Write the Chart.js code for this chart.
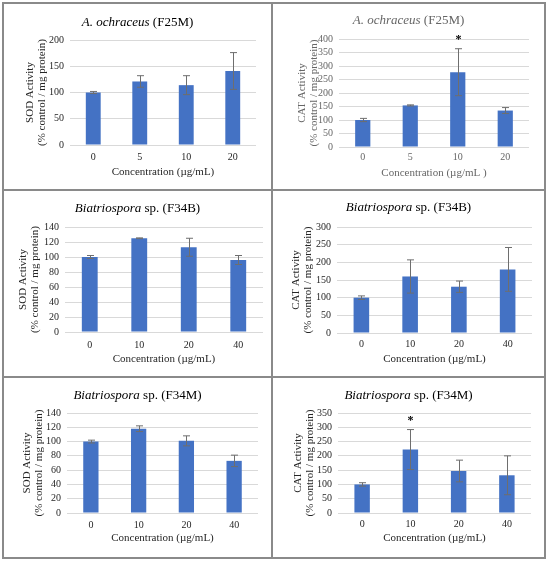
<!DOCTYPE html>
<html>
<head>
<meta charset="utf-8">
<script src="https://cdn.jsdelivr.net/npm/chart.js@4.4.0/dist/chart.umd.min.js"></script>
<style>
  html, body { margin: 0; padding: 0; background: #fff; }
  #page { position: relative; width: 550px; height: 561px; overflow: hidden;
          font-family: "Liberation Serif", "Times New Roman", serif; }
  .panel { position: absolute; }
  .panel canvas { position: absolute; left: 0; top: 0; }
  .ptitle { position: absolute; left: 0; right: 0; text-align: center;
            font-size: 13px; line-height: 16px; white-space: nowrap; }
  .rule { position: absolute; background: #8a8a8a; }
</style>
</head>
<body>
<div id="page"></div>
<script>
// categories (concentration, µg/mL)
const concF25M = ['0', '5', '10', '20'];
const concF34 = ['0', '10', '20', '40'];

// A. ochraceus (F25M)
const sodF25M = [100, 121, 114, 141];
const sodF25MErr = [2, 11, 18, 35];
const catF25M = [100, 154, 277, 135];
const catF25MErr = [6, 2, 87, 11];
const catF25MSig = [false, false, true, false];

// Biatriospora sp. (F34B)
const sodF34B = [100, 125, 113, 96];
const sodF34BErr = [2, 0.5, 12, 6];
const catF34B = [100, 160, 131, 180];
const catF34BErr = [5, 47, 16, 62];

// Biatriospora sp. (F34M)
const sodF34M = [100, 118, 101, 73];
const sodF34MErr = [2, 4, 7, 8];
const catF34M = [100, 222, 147, 132];
const catF34MErr = [6, 70, 38, 68];
const catF34MSig = [false, true, false, false];

// y tick labels
const ticksSodF25M = [0, 50, 100, 150, 200];
const ticksCatF25M = [0, 50, 100, 150, 200, 250, 300, 350, 400];
const ticksSodF34 = [0, 20, 40, 60, 80, 100, 120, 140];
const ticksCatF34B = [0, 50, 100, 150, 200, 250, 300];
const ticksCatF34M = [0, 50, 100, 150, 200, 250, 300, 350];

const sodTitle = ['SOD Activity', '(% control / mg protein)'];
const catTitle = ['CAT Activity', '(% control / mg protein)'];

const BAR = '#4472C4';
const GRID = '#d9d9d9';
const SERIF = '"Liberation Serif", "Times New Roman", serif';

// layout in page pixels: box = [x, y, w, h], plot = [left, top, right, bottom]
const panels = [
  { italic: 'A. ochraceus', rest: ' (F25M)', labels: concF25M, values: sodF25M, err: sodF25MErr, sig: null,
    ticks: ticksSodF25M, yTitle: sodTitle, xTitle: 'Concentration (µg/mL)',
    box: [3, 3, 269, 187], plot: [70, 40, 256, 145], yLine: 30, xTit: 172, xLab: 157, tY: 22, color: '#262626', tColor: '#000' },
  { italic: 'A. ochraceus', rest: ' (F25M)', labels: concF25M, values: catF25M, err: catF25MErr, sig: catF25MSig,
    ticks: ticksCatF25M, yTitle: catTitle, xTitle: 'Concentration (µg/mL )',
    box: [272, 3, 273, 187], plot: [339, 39, 529, 147], yLine: 302, xTit: 173, xLab: 157, tY: 20, color: '#666', tColor: '#666' },
  { italic: 'Biatriospora', rest: ' sp. (F34B)', labels: concF34, values: sodF34B, err: sodF34BErr, sig: null,
    ticks: ticksSodF34, yTitle: sodTitle, xTitle: 'Concentration (µg/mL)',
    box: [3, 190, 269, 187], plot: [65, 227, 263, 332], yLine: 23, xTit: 359, xLab: 345, tY: 208, color: '#262626', tColor: '#000' },
  { italic: 'Biatriospora', rest: ' sp. (F34B)', labels: concF34, values: catF34B, err: catF34BErr, sig: null,
    ticks: ticksCatF34B, yTitle: catTitle, xTitle: 'Concentration (µg/mL)',
    box: [272, 190, 273, 187], plot: [337, 227, 532, 333], yLine: 296, xTit: 359, xLab: 344, tY: 207, color: '#262626', tColor: '#000' },
  { italic: 'Biatriospora', rest: ' sp. (F34M)', labels: concF34, values: sodF34M, err: sodF34MErr, sig: null,
    ticks: ticksSodF34, yTitle: sodTitle, xTitle: 'Concentration (µg/mL)',
    box: [3, 377, 269, 181], plot: [67, 413, 258, 513], yLine: 27, xTit: 538, xLab: 525, tY: 395, color: '#262626', tColor: '#000' },
  { italic: 'Biatriospora', rest: ' sp. (F34M)', labels: concF34, values: catF34M, err: catF34MErr, sig: catF34MSig,
    ticks: ticksCatF34M, yTitle: catTitle, xTitle: 'Concentration (µg/mL)',
    box: [272, 377, 273, 181], plot: [338, 413, 531, 513], yLine: 298, xTit: 538, xLab: 524, tY: 395, color: '#262626', tColor: '#000' }
];

// error bars + significance marks, drawn from the y scale
function errorBars(values, err, sig) {
  return {
    id: 'errorBars',
    afterDatasetsDraw(chart) {
      const ctx = chart.ctx;
      const y = chart.scales.y;
      const meta = chart.getDatasetMeta(0);
      ctx.save();
      ctx.strokeStyle = '#6e6e6e';
      ctx.lineWidth = 1;
      meta.data.forEach((bar, i) => {
        const x = Math.round(bar.x) + 0.5;
        const yt = y.getPixelForValue(values[i] + err[i]);
        const yb = y.getPixelForValue(values[i] - err[i]);
        ctx.beginPath();
        ctx.moveTo(x, yt); ctx.lineTo(x, yb);
        ctx.moveTo(x - 3.5, yt); ctx.lineTo(x + 3.5, yt);
        ctx.moveTo(x - 3.5, yb); ctx.lineTo(x + 3.5, yb);
        ctx.stroke();
        if (sig && sig[i]) {
          ctx.fillStyle = '#000';
          ctx.font = 'bold 12px ' + SERIF;
          ctx.textAlign = 'center';
          ctx.textBaseline = 'alphabetic';
          ctx.fillText('*', x, yt - 6);
        }
      });
      ctx.restore();
    }
  };
}

const page = document.getElementById('page');

panels.forEach(p => {
  const [bx, by, bw, bh] = p.box;
  const [pl, pt, pr, pb] = p.plot;

  const div = document.createElement('div');
  div.className = 'panel';
  div.style.left = bx + 'px';
  div.style.top = by + 'px';
  div.style.width = bw + 'px';
  div.style.height = bh + 'px';

  const canvas = document.createElement('canvas');
  canvas.width = bw;
  canvas.height = bh;
  canvas.style.width = bw + 'px';
  canvas.style.height = bh + 'px';
  div.appendChild(canvas);

  const t = document.createElement('div');
  t.className = 'ptitle';
  t.style.top = (p.tY - by - 8) + 'px';
  t.style.color = p.tColor;
  const it = document.createElement('i');
  it.textContent = p.italic;
  t.appendChild(it);
  t.appendChild(document.createTextNode(p.rest));
  div.appendChild(t);
  page.appendChild(div);

  const axisFont = { family: SERIF, size: 11, lineHeight: 1.1 };
  const tickFont = { family: SERIF, size: 10, lineHeight: 1.2 };
  const lh = 11 * 1.1;

  new Chart(canvas, {
    type: 'bar',
    data: {
      labels: p.labels,
      datasets: [{
        data: p.values,
        backgroundColor: BAR,
        borderWidth: 0,
        categoryPercentage: 0.32,
        barPercentage: 1
      }]
    },
    options: {
      responsive: false,
      animation: false,
      layout: { padding: { left: 0, top: pt - by, right: (bx + bw) - pr, bottom: 0 } },
      plugins: { legend: { display: false }, tooltip: { enabled: false } },
      scales: {
        x: {
          grid: { display: false, drawTicks: false },
          border: { display: false },
          ticks: { font: tickFont, color: p.color, padding: p.xLab - pb - 6, autoSkip: false, maxRotation: 0 },
          title: {
            display: true, text: p.xTitle, font: axisFont, color: p.color,
            padding: { top: 0, bottom: (by + bh) - p.xTit - lh / 2 }
          },
          afterFit: s => { s.height = (by + bh) - pb; }
        },
        y: {
          min: p.ticks[0],
          max: p.ticks[p.ticks.length - 1],
          ticks: { stepSize: p.ticks[1] - p.ticks[0], font: tickFont, color: p.color, padding: 6, autoSkip: false },
          grid: { color: GRID, drawTicks: false, lineWidth: 1 },
          border: { display: false },
          title: {
            display: true, text: p.yTitle, font: axisFont, color: p.color,
            padding: { top: p.yLine - bx - lh / 2, bottom: 0 }
          },
          afterFit: s => { s.width = pl - bx; }
        }
      }
    },
    plugins: [errorBars(p.values, p.err, p.sig)]
  });
});

// panel frame
function rule(x, y, w, h) {
  const r = document.createElement('div');
  r.className = 'rule';
  r.style.left = x + 'px';
  r.style.top = y + 'px';
  r.style.width = w + 'px';
  r.style.height = h + 'px';
  page.appendChild(r);
}
rule(2, 2, 544, 2);
rule(2, 557, 544, 2);
rule(2, 2, 2, 557);
rule(544, 2, 2, 557);
rule(271, 2, 2, 557);
rule(2, 189, 544, 2);
rule(2, 376, 544, 2);
</script>
</body>
</html>
